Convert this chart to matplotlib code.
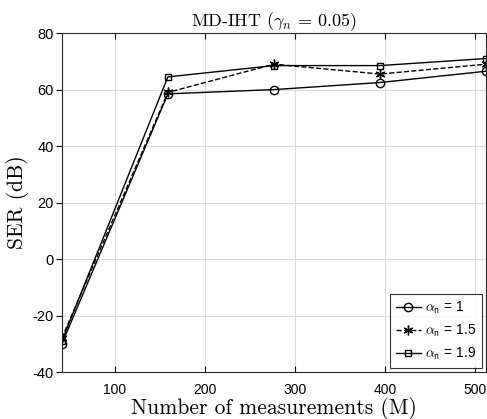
import numpy as np
import matplotlib
matplotlib.use('Agg')
import matplotlib.pyplot as plt

plt.rcParams['mathtext.fontset'] = 'cm'
plt.rcParams['font.family'] = ['Liberation Sans', 'DejaVu Sans']

# measurements M
m = [41, 158.75, 276.5, 394.25, 512]
ser_a1 = [-30.0, 58.5, 60.0, 62.5, 66.5]
ser_a15 = [-28.0, 59.0, 69.0, 65.5, 69.0]
ser_a19 = [-29.0, 64.5, 68.5, 68.5, 71.0]
labels = [r'$\alpha_{\mathsf{n}}$ = 1', r'$\alpha_{\mathsf{n}}$ = 1.5', r'$\alpha_{\mathsf{n}}$ = 1.9']

fig = plt.figure(figsize=(4.87, 4.19), dpi=100)
ax = fig.add_axes([0.127, 0.112, 0.871, 0.809])

ax.plot(m, ser_a1, 'k-', marker='o', markersize=6, markerfacecolor='none', linewidth=1, label=labels[0])
ax.plot(m, ser_a15, 'k--', marker=(6, 2, 0), markersize=7, linewidth=1, label=labels[1])
ax.plot(m, ser_a19, 'k-', marker='s', markersize=5, markerfacecolor='none', linewidth=1, label=labels[2])

ax.set_xlim(41, 512)
ax.set_ylim(-40, 80)
ax.set_xticks([100, 200, 300, 400, 500])
ax.set_yticks([-40, -20, 0, 20, 40, 60, 80])
ax.set_yticklabels(['-40', '-20', '0', '20', '40', '60', '80'])
ax.tick_params(axis='x', direction='in', labelsize=10, length=4, top=True, pad=8)
ax.tick_params(axis='y', direction='out', labelsize=10.5, length=4, right=False, pad=2)
ax.grid(True, color='#dddddd', linewidth=0.8)
ax.set_axisbelow(True)
for s in ax.spines.values():
    s.set_color('#262626')
    s.set_linewidth(0.8)

ax.set_title(r'MD-IHT ($\gamma_n\,=\,0.05$)', fontsize=13, family='cmr10', pad=5)
ax.set_xlabel('Number of measurements (M)', fontsize=15.5, family='cmr10', labelpad=0)
ax.set_ylabel('SER (dB)', fontsize=15.5, family='cmr10', labelpad=2)

leg = ax.legend(loc='lower right', fontsize=10, fancybox=False, edgecolor='black',
                handlelength=1.8, handletextpad=0.3, borderpad=0.4, labelspacing=0.5,
                borderaxespad=0.3)
leg.get_frame().set_linewidth(0.8)

fig.savefig('out.png', dpi=100)
